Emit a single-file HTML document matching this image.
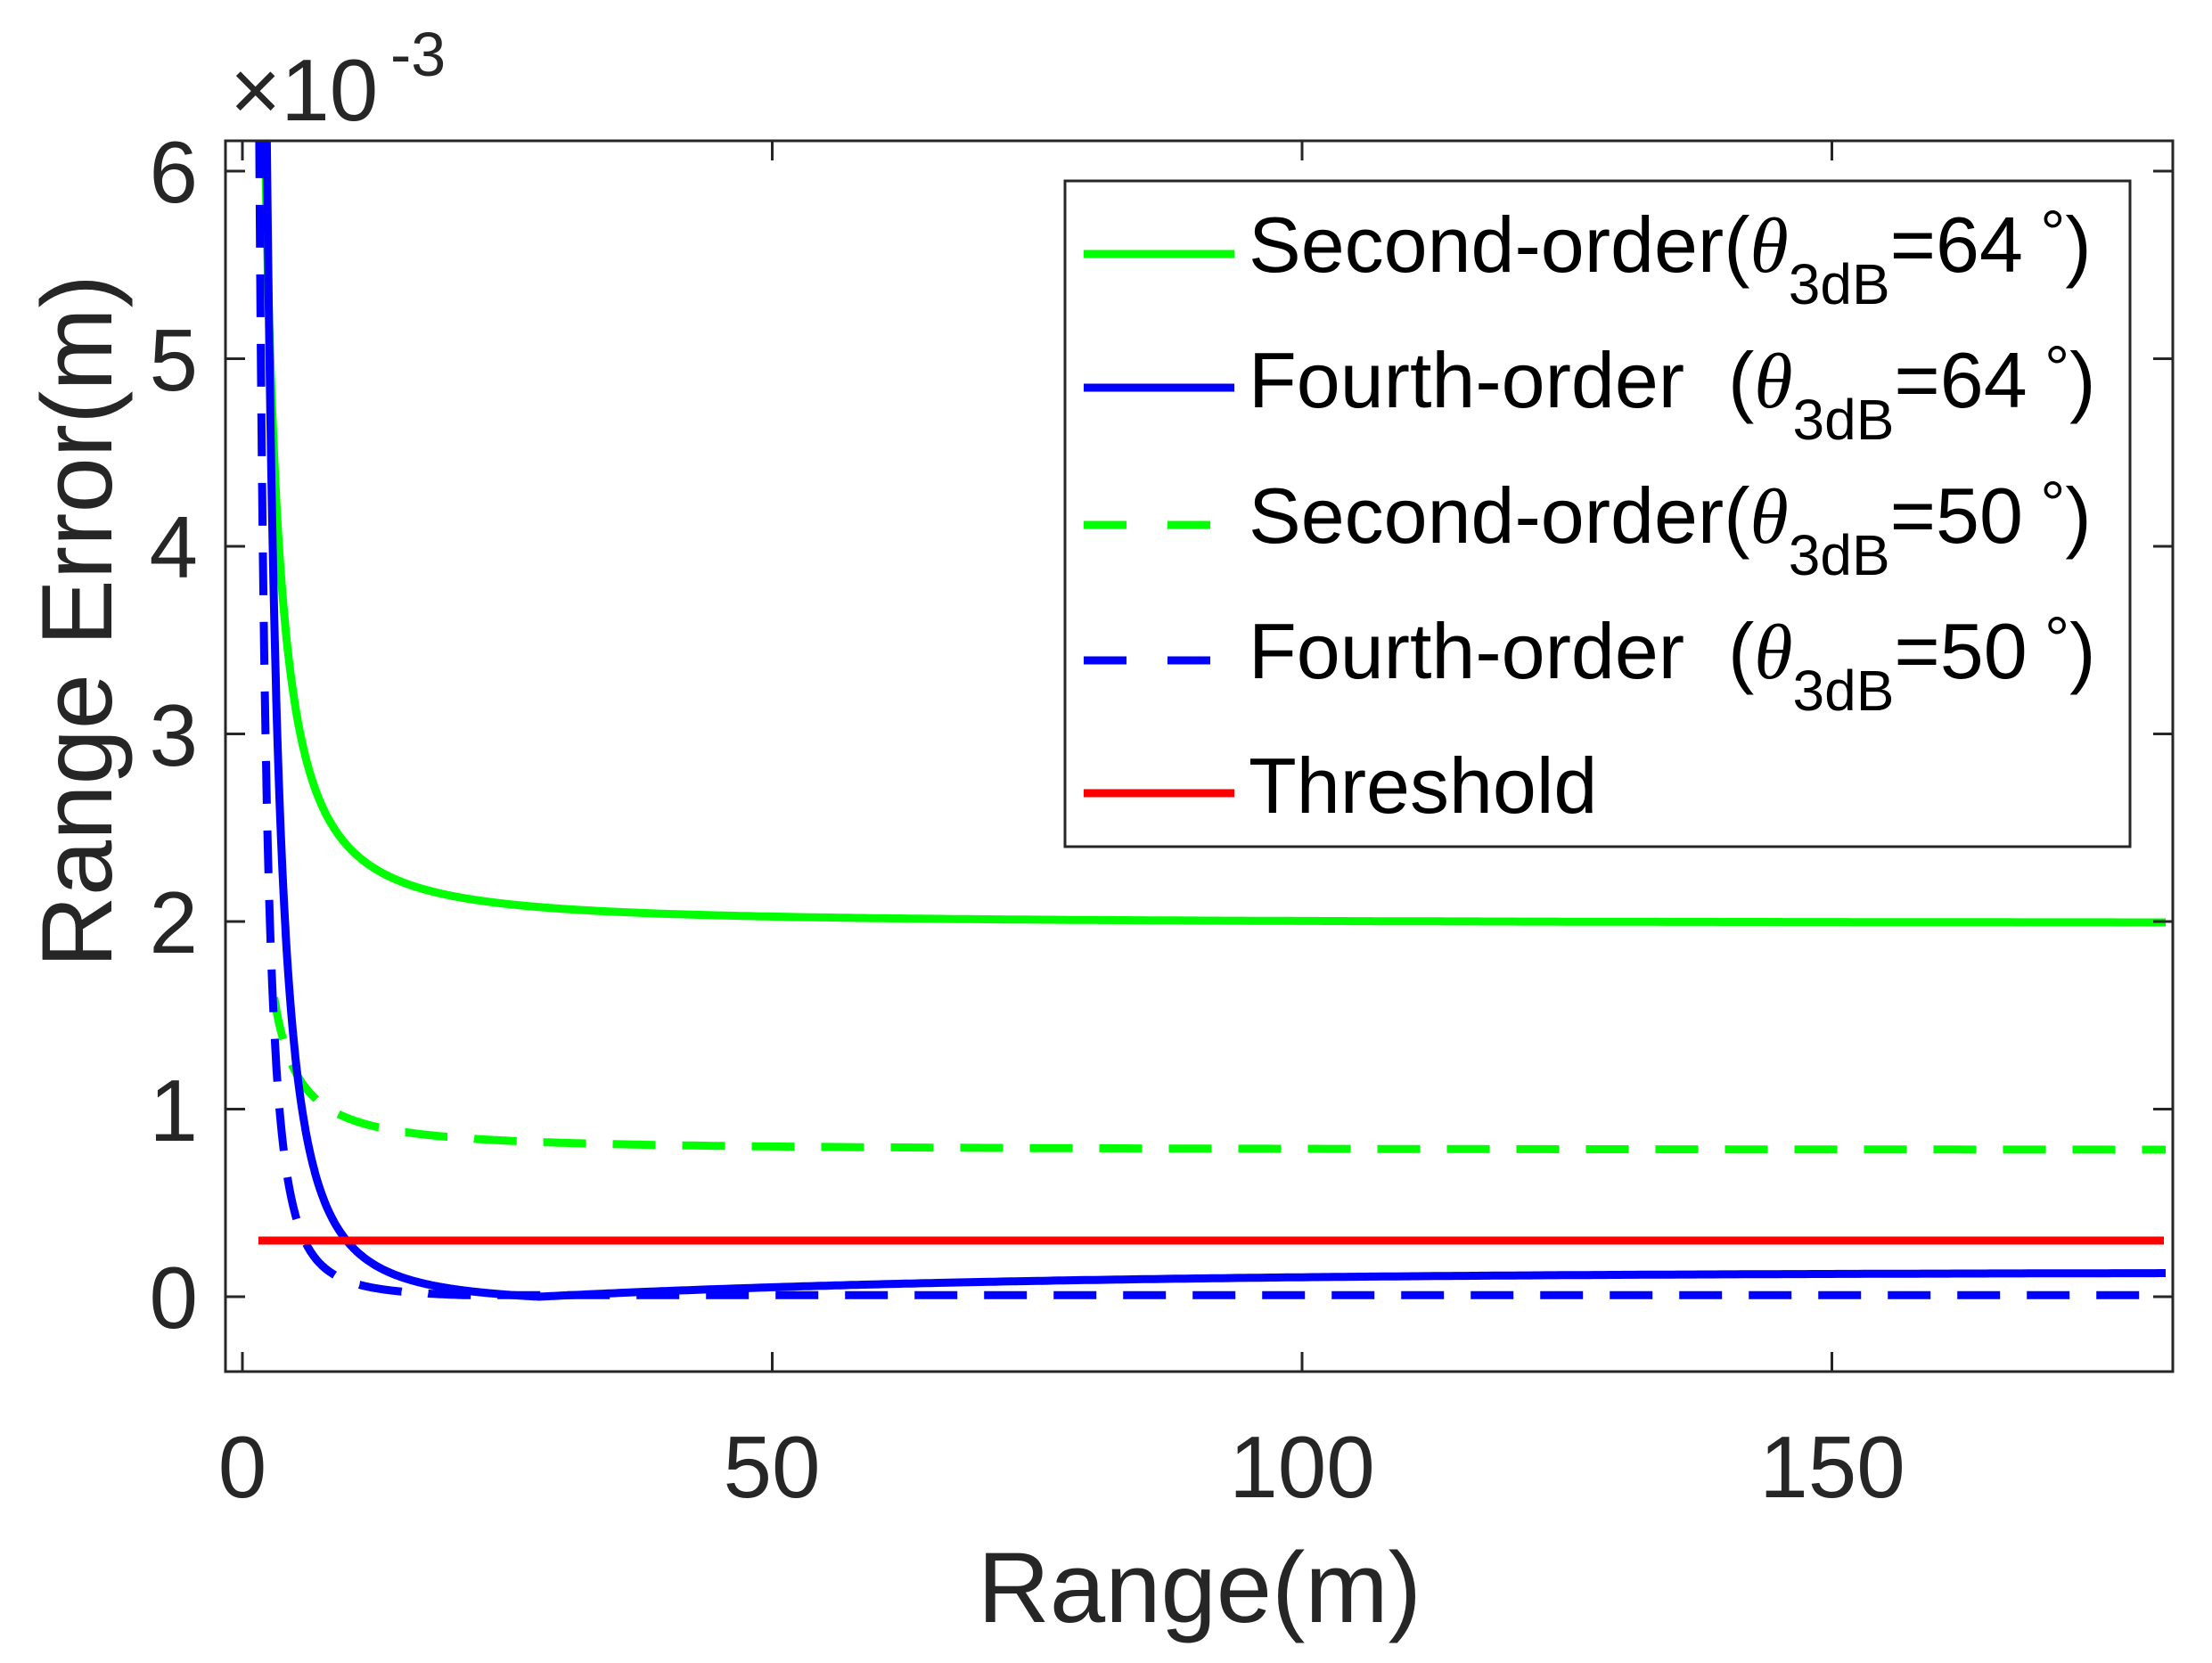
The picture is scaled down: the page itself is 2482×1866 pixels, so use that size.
<!DOCTYPE html>
<html><head><meta charset="utf-8"><style>
html,body{margin:0;padding:0;background:#fff;}
svg{display:block;font-family:"Liberation Sans",sans-serif;}
</style></head><body>
<svg id="s" width="2482" height="1866" viewBox="0 0 2482 1866" xmlns="http://www.w3.org/2000/svg">
<defs><clipPath id="c"><rect x="253" y="158" width="2185" height="1381"/></clipPath></defs>
<rect width="2482" height="1866" fill="#fff"/>
<g clip-path="url(#c)" fill="none" stroke-width="9">
<path id="gs" stroke="#00ff00"/>
<path id="gd" stroke="#00ff00" stroke-dasharray="48 30"/>
<path id="bs" stroke="#0000ff"/>
<path id="bd" stroke="#0000ff" stroke-dasharray="48 30"/>
<line x1="290" y1="1392" x2="2428" y2="1392" stroke="#ff0000"/>
</g>
<rect x="253" y="158" width="2185" height="1381" fill="none" stroke="#262626" stroke-width="3"/>
<g id="ticks" stroke="#262626" stroke-width="3"></g>
<g fill="#262626" font-size="98" text-anchor="end">
<text x="222" y="1490">0</text>
<text x="222" y="1280">1</text>
<text x="222" y="1069">2</text>
<text x="222" y="859">3</text>
<text x="222" y="648">4</text>
<text x="222" y="438">5</text>
<text x="222" y="227">6</text>
</g>
<g fill="#262626" font-size="98" text-anchor="middle">
<text x="272" y="1680">0</text>
<text x="866" y="1680">50</text>
<text x="1461" y="1680">100</text>
<text x="2056" y="1680">150</text>
</g>
<text x="1346" y="1820" font-size="112" fill="#262626" text-anchor="middle">Range(m)</text>
<text transform="translate(125,697) rotate(-90)" font-size="112" fill="#262626" text-anchor="middle">Range Error(m)</text>
<text x="258" y="135" font-size="98" fill="#262626">×10</text>
<text x="438" y="85" font-size="70" fill="#262626">-3</text>
<rect x="1195" y="203" width="1195" height="747" fill="#fff" stroke="#262626" stroke-width="3"/>
<g stroke-width="9">
<line x1="1216" y1="285" x2="1385" y2="285" stroke="#00ff00"/>
<line x1="1216" y1="435" x2="1385" y2="435" stroke="#0000ff"/>
<line x1="1216" y1="589" x2="1385" y2="589" stroke="#00ff00" stroke-dasharray="48 46"/>
<line x1="1216" y1="741" x2="1385" y2="741" stroke="#0000ff" stroke-dasharray="48 46"/>
<line x1="1216" y1="890" x2="1385" y2="890" stroke="#ff0000"/>
</g>
<g fill="#000" font-size="88">
<text x="1401" y="305">Second-order(<tspan font-style="italic" font-family="Liberation Serif">θ</tspan><tspan font-size="64" dy="36">3dB</tspan><tspan dy="-36">=64</tspan><tspan font-size="70" dy="-20"> °</tspan><tspan dy="20">)</tspan></text>
<text x="1401" y="457">Fourth-order&#160;&#160;(<tspan font-style="italic" font-family="Liberation Serif">θ</tspan><tspan font-size="64" dy="36">3dB</tspan><tspan dy="-36">=64</tspan><tspan font-size="70" dy="-20"> °</tspan><tspan dy="20">)</tspan></text>
<text x="1401" y="609">Second-order(<tspan font-style="italic" font-family="Liberation Serif">θ</tspan><tspan font-size="64" dy="36">3dB</tspan><tspan dy="-36">=50</tspan><tspan font-size="70" dy="-20"> °</tspan><tspan dy="20">)</tspan></text>
<text x="1401" y="761">Fourth-order&#160;&#160;(<tspan font-style="italic" font-family="Liberation Serif">θ</tspan><tspan font-size="64" dy="36">3dB</tspan><tspan dy="-36">=50</tspan><tspan font-size="70" dy="-20"> °</tspan><tspan dy="20">)</tspan></text>
<text x="1401" y="912">Threshold</text>
</g>
</svg>
<script>
(function(){
function X(x){return 272+x*11.89;}
function Y(y){return 1455-y*210.5;}
function mk(id,f,x0){
 var d="",first=true;
 for(var x=x0;x<=182;x+=(x<30?0.05:0.5)){
  var y=f(x); if(y>7)continue;
  d+=(first?"M":"L")+X(x).toFixed(1)+" "+Y(y).toFixed(1)+" "; first=false;}
 document.getElementById(id).setAttribute("d",d);
}
mk("gs",function(x){return 1.99+12.9/Math.pow(x,1.5);},1.5);
mk("gd",function(x){return 0.78+3.4/Math.pow(x,1.3);},3);
mk("bs",function(x){return x<28?33*(1/(x*x)-1/784):0.13*(1-Math.exp(-(x-28)/45));},1);
mk("bd",function(x){return x<30?Math.max(0.008,18/Math.pow(x,2.3)-0.008):0.008;},1);
var g=document.getElementById("ticks"),s="";
for(var i=0;i<=6;i++){var y=Y(i);s+='<line x1="253" y1="'+y+'" x2="275" y2="'+y+'"/><line x1="2416" y1="'+y+'" x2="2438" y2="'+y+'"/>';}
[0,50,100,150].forEach(function(v){var x=X(v);s+='<line x1="'+x+'" y1="1539" x2="'+x+'" y2="1517"/><line x1="'+x+'" y1="158" x2="'+x+'" y2="180"/>';});
g.innerHTML=s;
})();
</script>
</body></html>
